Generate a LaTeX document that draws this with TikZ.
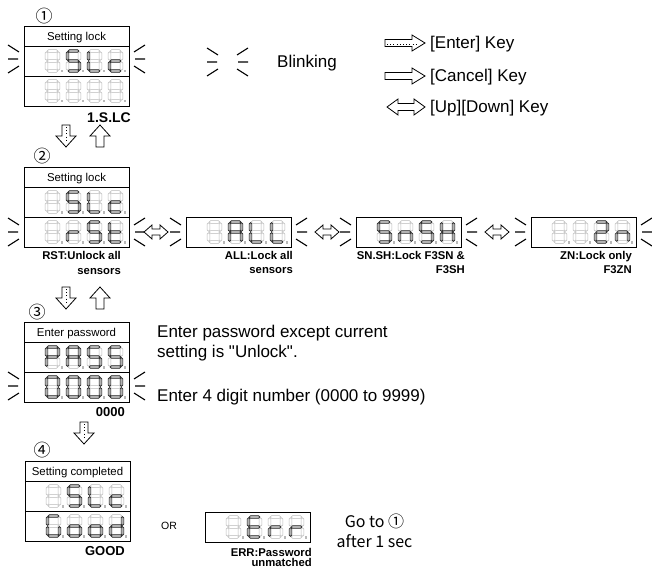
\documentclass[tikz,border=0pt]{standalone}
\usepackage{fontspec}
\setmainfont{Liberation Sans}
\newfontfamily\qfont{Liberation Sans}
\newfontfamily\cjk{Noto Sans CJK JP}
\definecolor{segoffc}{RGB}{185,185,185}
\tikzset{
 segoff/.style={draw=segoffc, line width=0.6pt},
 segon/.style={draw=black!85, fill=black!30, line width=0.65pt},
 cur/.style={segoff},
 blk/.style={line width=1.1pt, line cap=butt},
 box/.style={draw=black, line width=0.9pt},
 keyarrow/.style={draw=black, fill=white, line width=0.8pt, line join=miter},
 dotline/.style={line width=0.8pt, dash pattern=on 0.8pt off 2.4pt},
 hdr/.style={font=\fontsize{11.4}{13}\selectfont, inner sep=0pt, anchor=base},
 lbl/.style={font=\bfseries\fontsize{11.3}{13}\selectfont, inner sep=0pt, anchor=base east},
 big/.style={font=\fontsize{17}{20}\selectfont, inner sep=0pt, anchor=base west},
 circ/.style={font=\cjk\fontsize{17}{17}\selectfont, inner sep=0pt},
 jp/.style={font=\cjk\fontsize{16}{18}\selectfont, inner sep=0pt},
}
\makeatletter
\newcommand\SEG[2]{\in@{#1}{#2}\ifin@\tikzset{cur/.style=segon}\else\tikzset{cur/.style=segoff}\fi}
\makeatother
\newcommand\HS[3]{\path[cur] (#1,#2) -- ++(1.4,-1.4) -- ++(#3-2.8,0) -- ++(1.4,1.4) -- ++(-1.4,1.4) -- ++(2.8-#3,0) -- cycle;}
\newcommand\VS[3]{\path[cur] (#1,#2) -- ++(1.4,1.4) -- ++(0,#3-2.8) -- ++(-1.4,1.4) -- ++(-1.4,-1.4) -- ++(0,2.8-#3) -- cycle;}
\newcommand\DIG[3]{%
 \SEG{a}{#3}\HS{#1+2.2}{#2+1.5}{10.6}%
 \SEG{g}{#3}\HS{#1+2.2}{#2+11.5}{10.6}%
 \SEG{d}{#3}\HS{#1+2.2}{#2+21.5}{10.6}%
 \SEG{f}{#3}\VS{#1+1.5}{#2+2.2}{8.6}%
 \SEG{b}{#3}\VS{#1+13.5}{#2+2.2}{8.6}%
 \SEG{e}{#3}\VS{#1+1.5}{#2+12.2}{8.6}%
 \SEG{c}{#3}\VS{#1+13.5}{#2+12.2}{8.6}%
 \path[segoff] (#1+15.8,#2+20.7) rectangle ++(1.6,1.6);}
\newcommand\ROW[6]{\DIG{#1+21}{#2+3.5}{#3}\DIG{#1+42}{#2+3.5}{#4}\DIG{#1+63}{#2+3.5}{#5}\DIG{#1+84}{#2+3.5}{#6}}
\newcommand\BLINK[3]{%
 \draw[blk] (#1-16,#3-14) -- (#1-5,#3-7) (#1-16,#3) -- (#1-6,#3) (#1-16,#3+14) -- (#1-5,#3+7)
   (#2+5,#3-7) -- (#2+16,#3-14) (#2+6,#3) -- (#2+16,#3) (#2+5,#3+7) -- (#2+16,#3+14);}
\newcommand\DISPF[3]{%
 \draw[box] (#1,#2) rectangle ++(105,80);
 \draw[box] (#1,#2+20) -- ++(105,0) (#1,#2+50) -- ++(105,0);}
\newcommand\DISPS[2]{\draw[box] (#1,#2) rectangle ++(105,30);}
\newcommand\DOWNARROW[2]{%
 \draw[keyarrow] (#1-4,#2) -- (#1+4,#2) -- (#1+4,#2+11) -- (#1+10,#2+11) -- (#1,#2+22) -- (#1-10,#2+11) -- (#1-4,#2+11) -- cycle;
 \draw[dotline] (#1,#2+2) -- (#1,#2+17);}
\newcommand\UPARROW[2]{%
 \draw[keyarrow] (#1,#2) -- (#1+10,#2+11) -- (#1+4,#2+11) -- (#1+4,#2+22) -- (#1-4,#2+22) -- (#1-4,#2+11) -- (#1-10,#2+11) -- cycle;}
% cx cy halflen headlen headhalf shafthalf
\newcommand\DBL[6]{%
 \draw[keyarrow] (#1-#3,#2) -- (#1-#3+#4,#2-#5) -- (#1-#3+#4,#2-#6) -- (#1+#3-#4,#2-#6) -- (#1+#3-#4,#2-#5) -- (#1+#3,#2)
   -- (#1+#3-#4,#2+#5) -- (#1+#3-#4,#2+#6) -- (#1-#3+#4,#2+#6) -- (#1-#3+#4,#2+#5) -- cycle;}
\begin{document}
\begin{tikzpicture}[x=1pt,y=-1pt]
\useasboundingbox (0,0) rectangle (652,569);
\fill[white] (0,0) rectangle (652,569);

% ---------- legend ----------
\BLINK{223}{232}{62}
\node[big] (lblink) at (277,68) {Blinking};
\draw[keyarrow] (385,39.5) -- (412,39.5) -- (412,35) -- (425,43) -- (412,51) -- (412,46.5) -- (385,46.5) -- cycle;
\draw[dotline] (387,44) -- (418,44);
\node[big] (lenter) at (430,49) {[Enter] Key};
\draw[keyarrow] (385,72.5) -- (412,72.5) -- (412,68) -- (425,76) -- (412,84) -- (412,79.5) -- (385,79.5) -- cycle;
\node[big] (lcancel) at (430,82) {[Cancel] Key};
\DBL{406}{107}{19}{11}{8}{3.5}
\node[big] (lupdown) at (430,113) {[Up][Down] Key};

% ---------- step 1 ----------
\node[circ] (n1) at (44,16) {①};
\DISPF{24}{26}{}
\node[hdr] (h1) at (76.5,40.2) {Setting lock};
\ROW{24}{46}{}{afgcd}{fed}{ged}
\ROW{24}{76}{}{}{}{}
\BLINK{24}{129}{59}
\node[lbl, font=\bfseries\fontsize{14}{16}\selectfont] (t1) at (131,123) {1.S.LC};
\DOWNARROW{66}{125}
\UPARROW{100}{125}

% ---------- step 2 ----------
\node[circ] (n2) at (42,156) {②};
\DISPF{24}{167}{}
\node[hdr] (h2) at (76.5,181.2) {Setting lock};
\ROW{24}{187}{}{afgcd}{fed}{ged}
\ROW{24}{217}{}{eg}{afgcd}{fedg}
\BLINK{24}{129}{232}
\node[lbl] (t2a) at (121,259) {RST:Unlock all};
\node[lbl] (t2b) at (121,274) {sensors};
\DBL{156}{232}{12}{8}{7}{3}

\DISPS{186}{217}
\ROW{186}{217}{}{abcefg}{fed}{fed}
\BLINK{186}{291}{232}
\node[lbl] (t3a) at (293,259) {ALL:Lock all};
\node[lbl] (t3b) at (293,273) {sensors};
\DBL{327}{232}{12}{8}{7}{3}

\DISPS{356}{217}
\ROW{356}{217}{afgcd}{ceg}{afgcd}{bcefg}
\BLINK{356}{461}{232}
\node[lbl] (t4a) at (465,259) {SN.SH:Lock F3SN \&};
\node[lbl] (t4b) at (465,273) {F3SH};
\DBL{497}{232}{12}{8}{7}{3}

\DISPS{531}{217}
\ROW{531}{217}{}{}{abged}{ceg}
\BLINK{531}{636}{232}
\node[lbl] (t5a) at (632,259) {ZN:Lock only};
\node[lbl] (t5b) at (632,273) {F3ZN};

\DOWNARROW{66}{287}
\UPARROW{100}{287}

% ---------- step 3 ----------
\node[circ] (n3) at (37,312) {③};
\DISPF{24}{322}{}
\node[hdr] (h3) at (76.5,336.2) {Enter password};
\ROW{24}{342}{abfge}{abcefg}{afgcd}{afgcd}
\ROW{24}{372}{abcdef}{abcdef}{abcdef}{abcdef}
\BLINK{24}{129}{386}
\node[lbl, font=\bfseries\fontsize{13}{15}\selectfont] (t6) at (125,416.7) {0000};
\node[big] (e1) at (157,337) {Enter password except current};
\node[big, font=\qfont\fontsize{17}{20}\selectfont] (e2) at (157,357) {setting is "Unlock".};
\node[big] (e3) at (157,401) {Enter 4 digit number (0000 to 9999)};
\DOWNARROW{84}{422}

% ---------- step 4 ----------
\node[circ] (n4) at (42,450) {④};
\DISPF{25}{461}{}
\node[hdr] (h4) at (77.5,475.2) {Setting completed};
\ROW{25}{481}{}{afgcd}{fed}{ged}
\ROW{25}{511}{afedc}{cdeg}{cdeg}{bcdeg}
\node[lbl, font=\bfseries\fontsize{13}{15}\selectfont] (t7) at (125,555.7) {GOOD};
\node[inner sep=0pt, font=\fontsize{10.5}{12}\selectfont] (or) at (169,526) {OR};
\DISPS{205}{512}
\ROW{205}{512}{}{afged}{eg}{eg}
\node[lbl] (t8a) at (312,556) {ERR:Password};
\node[lbl] (t8b) at (312,566.5) {unmatched};
\node[jp] (g1) at (374.5,521) {Go to ①};
\node[jp] (g2) at (374.5,541) {after 1 sec};
\end{tikzpicture}
\end{document}
